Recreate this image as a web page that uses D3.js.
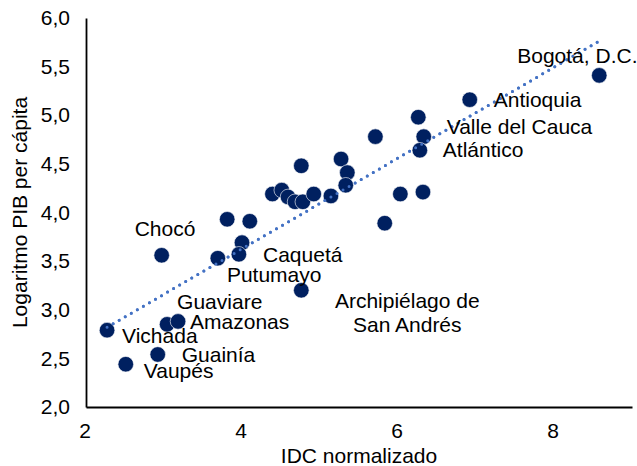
<!DOCTYPE html>
<html>
<head>
<meta charset="utf-8">
<script src="https://cdn.jsdelivr.net/npm/d3@7"></script>
<style>
  body { margin: 0; background: #fff; }
  svg { display: block; font-family: "Liberation Sans", Arial, sans-serif; }
</style>
</head>
<body>
<div id="chart"></div>
<script>
// one entry per department (unlabelled ones have an empty name)
const names = [
  "Bogotá, D.C.", "Antioquia", "", "Valle del Cauca", "Atlántico", "", "", "", "", "",
  "", "", "", "", "", "", "", "", "", "",
  "", "", "Caquetá", "Putumayo", "", "Chocó", "Archipiélago de|San Andrés", "Guaviare", "Amazonas", "Vichada",
  "Guainía", "Vaupés"
];
const idc = [
  8.58, 6.92, 6.26, 6.33, 6.28, 5.71, 4.76, 5.27, 5.35, 5.33,
  4.39, 4.51, 4.59, 4.68, 4.78, 4.92, 5.14, 6.03, 6.32, 5.83,
  3.81, 4.10, 4.00, 3.96, 3.69, 2.97, 4.76, 3.04, 3.18, 2.27,
  2.92, 2.51
];
const logPib = [
  5.41, 5.16, 4.98, 4.78, 4.64, 4.78, 4.48, 4.55, 4.41, 4.28,
  4.19, 4.23, 4.16, 4.11, 4.11, 4.19, 4.17, 4.19, 4.21, 3.89,
  3.93, 3.91, 3.69, 3.57, 3.53, 3.56, 3.20, 2.85, 2.88, 2.79,
  2.54, 2.44
];
const xTicks = [2, 4, 6, 8];
const yTicks = [2, 2.5, 3, 3.5, 4, 4.5, 5, 5.5, 6];

// label offsets from the marker centre, in pixels
const labelOffset = {
  "Bogotá, D.C.": [-82, -12],
  "Antioquia": [24, 7],
  "Valle del Cauca": [23, -3],
  "Atlántico": [23, 7],
  "Chocó": [-27, -19],
  "Caquetá": [21, 19],
  "Putumayo": [-12, 28],
  "Archipiélago de|San Andrés": [106, 18, "middle"],
  "Guaviare": [10, -15],
  "Amazonas": [12, 8],
  "Vichada": [15, 13],
  "Guainía": [24, 8],
  "Vaupés": [18, 14]
};

const fontSize = 21;
const width = 637;
const height = 466;
const margin = { top: 18, right: 5, bottom: 59, left: 86 };

const data = names.map((name, i) => ({ name, x: idc[i], y: logPib[i] }));

const x = d3.scaleLinear().domain([2, 9]).range([margin.left, width - margin.right]);
const y = d3.scaleLinear().domain([2, 6]).range([height - margin.bottom, margin.top]);

const svg = d3.select("#chart")
  .append("svg")
  .attr("width", width)
  .attr("height", height);

// axes: just the line and labels, no tick marks
const xAxis = svg.append("g")
  .attr("transform", `translate(0,${height - margin.bottom})`)
  .call(d3.axisBottom(x).tickValues(xTicks).tickSize(0).tickPadding(16).tickFormat(d3.format("d")));
const yAxis = svg.append("g")
  .attr("transform", `translate(${margin.left},0)`)
  .call(d3.axisLeft(y).tickValues(yTicks).tickSize(0).tickPadding(16)
    .tickFormat((d) => d3.format(".1f")(d).replace(".", ",")));

[xAxis, yAxis].forEach((g) => {
  g.select(".domain").attr("stroke", "#000").attr("stroke-width", 1.8);
  g.selectAll("text").attr("font-size", fontSize).attr("fill", "#000")
    .attr("font-family", "Liberation Sans, Arial, sans-serif");
});
xAxis.selectAll("text").attr("dx", -1.5);

// linear trend line fitted on the points
const mx = d3.mean(data, (d) => d.x);
const my = d3.mean(data, (d) => d.y);
const slope = d3.sum(data, (d) => (d.x - mx) * (d.y - my)) / d3.sum(data, (d) => (d.x - mx) ** 2);
const intercept = my - slope * mx;
const [x0, x1] = d3.extent(data, (d) => d.x);

function trend() {
  svg.append("line")
    .attr("x1", x(x0))
    .attr("y1", y(intercept + slope * x0))
    .attr("x2", x(x1))
    .attr("y2", y(intercept + slope * x1))
    .attr("stroke", "#4472c4")
    .attr("stroke-width", 3)
    .attr("stroke-linecap", "round")
    .attr("stroke-dasharray", "0 7");
}

trend();

svg.append("g")
  .selectAll("circle")
  .data(data)
  .join("circle")
  .attr("cx", (d) => x(d.x))
  .attr("cy", (d) => y(d.y))
  .attr("r", 7.8)
  .attr("fill", "#002060")
  .attr("stroke", "#fff")
  .attr("stroke-width", 0.6);

// trend line shows over the markers too
trend();

const labels = svg.append("g")
  .selectAll("text")
  .data(data.filter((d) => d.name))
  .join("text")
  .attr("font-size", fontSize)
  .attr("fill", "#000")
  .attr("text-anchor", (d) => labelOffset[d.name][2] || "start")
  .attr("x", (d) => x(d.x) + labelOffset[d.name][0])
  .attr("y", (d) => y(d.y) + labelOffset[d.name][1]);

labels.each(function (d) {
  const t = d3.select(this);
  d.name.split("|").forEach((p, i) => {
    t.append("tspan")
      .attr("x", x(d.x) + labelOffset[d.name][0])
      .attr("dy", i === 0 ? 0 : 24)
      .text(p);
  });
});

svg.append("text")
  .attr("x", 359)
  .attr("y", 463)
  .attr("text-anchor", "middle")
  .attr("font-size", fontSize)
  .text("IDC normalizado");

svg.append("text")
  .attr("transform", `translate(27,${(margin.top + height - margin.bottom) / 2}) rotate(-90)`)
  .attr("text-anchor", "middle")
  .attr("font-size", fontSize)
  .text("Logaritmo PIB per cápita");
</script>
</body>
</html>
